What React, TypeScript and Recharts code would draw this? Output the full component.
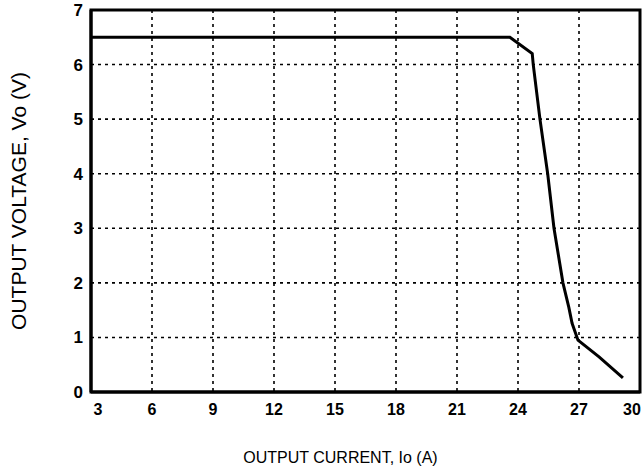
// output voltage vs output current (current limit foldback curve)
import { CartesianGrid, Line, LineChart, ReferenceArea, XAxis, YAxis } from "recharts";

const currentA = [3, 23.6, 24.7, 24.75, 25.08, 25.46, 25.77, 26.21, 26.5, 26.66, 26.95, 28.0, 29.16];
const voltageV = [6.5, 6.5, 6.2, 6.0, 5.0, 4.0, 3.0, 2.0, 1.55, 1.26, 0.95, 0.64, 0.26];

const xTicks = [3, 6, 9, 12, 15, 18, 21, 24, 27, 30];
const yTicks = [0, 1, 2, 3, 4, 5, 6, 7];

const data = currentA.map((io, i) => ({ io, vo: voltageV[i] }));

const font = "'Liberation Sans', Arial, sans-serif";

// first and last current labels sit a little inside the frame, like the original print
function CurrentTick(props: any) {
  const { x, y, payload } = props;
  let shift = 0;
  if (payload.value === xTicks[0]) shift = 7;
  if (payload.value === xTicks[xTicks.length - 1]) shift = -8;
  return (
    <text
      x={x + shift}
      y={y}
      dy={13}
      textAnchor="middle"
      fill="#000"
      fontSize={16}
      fontWeight="bold"
      fontFamily={font}
    >
      {payload.value}
    </text>
  );
}

export default function App() {
  return (
    <div style={{ width: 644, height: 472 }}>
      {/* drop the default body margin so the chart fills the window */}
      <style>{"body { margin: 0; overflow: hidden; }"}</style>
      <LineChart
        width={644}
        height={472}
        data={data}
        margin={{ top: 10, right: 4, bottom: 0, left: 0 }}
        style={{ fontFamily: font }}
      >
        <CartesianGrid stroke="#000" strokeWidth={1.6} strokeDasharray="3 4" />
        <XAxis
          type="number"
          dataKey="io"
          domain={[3, 30]}
          ticks={xTicks}
          interval={0}
          allowDataOverflow
          height={80}
          axisLine={{ stroke: "#000", strokeWidth: 3 }}
          tickLine={false}
          tickSize={0}
          tickMargin={10}
          tick={<CurrentTick />}
          label={{
            value: "OUTPUT CURRENT, Io (A)",
            position: "insideBottom",
            offset: 9,
            dx: -25,
            fill: "#000",
            fontSize: 16,
            fontFamily: font,
          }}
        />
        <YAxis
          type="number"
          domain={[0, 7]}
          ticks={yTicks}
          interval={0}
          width={91}
          axisLine={{ stroke: "#000", strokeWidth: 3 }}
          tickLine={false}
          tickSize={0}
          tickMargin={8}
          tick={{ fill: "#000", fontSize: 17, fontWeight: "bold", fontFamily: font }}
          label={{
            value: "OUTPUT VOLTAGE, Vo (V)",
            angle: -90,
            position: "insideLeft",
            offset: 19,
            fill: "#000",
            fontSize: 21,
            fontFamily: font,
            style: { textAnchor: "middle" },
          }}
        />
        <ReferenceArea x1={3} x2={30} y1={0} y2={7} fill="none" stroke="#000" strokeWidth={3} ifOverflow="extendDomain" />
        <Line
          type="linear"
          dataKey="vo"
          stroke="#000"
          strokeWidth={3}
          dot={false}
          isAnimationActive={false}
        />
      </LineChart>
    </div>
  );
}
